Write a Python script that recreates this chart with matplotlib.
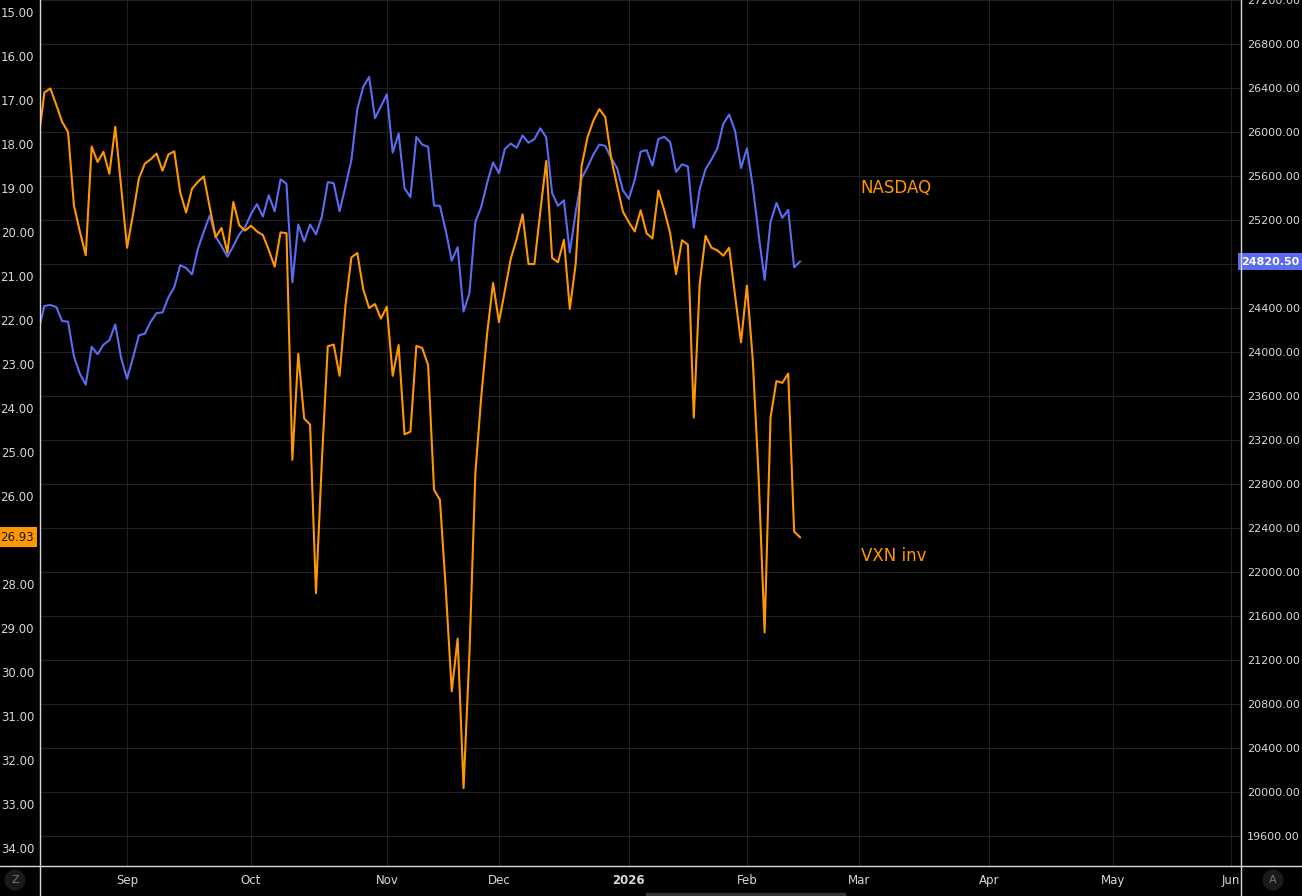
import numpy as np
import matplotlib; matplotlib.use("Agg")
import matplotlib.pyplot as plt
from matplotlib.lines import Line2D
from matplotlib.patches import Rectangle

# daily closes, Aug 11 2025 .. Feb 13 2026 (trading-day index)
vxn = [17.88, 16.82, 16.73, 17.10, 17.49, 17.72, 19.39, 19.98, 20.52, 18.05,
       18.40, 18.17, 18.67, 17.60, 18.97, 20.35, 19.59, 18.78, 18.44, 18.34,
       18.21, 18.60, 18.23, 18.16, 19.09, 19.55, 19.01, 18.85, 18.73, 19.43,
       20.11, 19.90, 20.46, 19.31, 19.84, 19.96, 19.85, 19.98, 20.06, 20.40,
       20.78, 20.00, 20.02, 25.17, 22.76, 24.23, 24.37, 28.20, 25.20, 22.59,
       22.55, 23.26, 21.66, 20.57, 20.47, 21.29, 21.72, 21.63, 21.96, 21.69,
       23.26, 22.56, 24.59, 24.53, 22.58, 22.63, 23.02, 25.85, 26.08, 28.13,
       30.43, 29.23, 32.63, 29.56, 25.47, 23.73, 22.29, 21.15, 22.04, 21.32,
       20.60, 20.15, 19.59, 20.72, 20.72, 19.53, 18.38, 20.58, 20.68, 20.17,
       21.74, 20.71, 18.49, 17.84, 17.46, 17.20, 17.38, 18.30, 18.94, 19.53,
       19.77, 19.98, 19.50, 20.02, 20.14, 19.05, 19.50, 20.02, 20.95, 20.18,
       20.28, 24.21, 21.17, 20.08, 20.35, 20.41, 20.53, 20.35, 21.44, 22.50,
       21.21, 22.91, 25.60, 29.09, 24.21, 23.38, 23.42, 23.21, 26.80, 26.93]
nasdaq = [24190, 24417, 24426, 24408, 24280, 24274, 23956, 23801, 23701, 24046,
          23978, 24065, 24105, 24249, 23941, 23755, 23947, 24149, 24165, 24274,
          24352, 24358, 24495, 24588, 24787, 24763, 24704, 24937, 25093, 25239,
          25049, 24962, 24865, 24962, 25068, 25133, 25255, 25343, 25230, 25424,
          25278, 25569, 25527, 24631, 25158, 25003, 25158, 25068, 25230, 25543,
          25534, 25278, 25505, 25746, 26206, 26410, 26500, 26125, 26232, 26342,
          25812, 25986, 25488, 25407, 25954, 25885, 25864, 25330, 25328, 25099,
          24829, 24952, 24366, 24535, 25181, 25320, 25537, 25722, 25624, 25845,
          25894, 25856, 25967, 25902, 25935, 26033, 25951, 25444, 25328, 25378,
          24903, 25271, 25578, 25681, 25795, 25885, 25873, 25763, 25673, 25468,
          25391, 25566, 25820, 25835, 25693, 25936, 25955, 25908, 25636, 25705,
          25686, 25130, 25478, 25662, 25750, 25851, 26073, 26158, 26009, 25671,
          25851, 25503, 25060, 24655, 25180, 25355, 25218, 25291, 24769, 24820.5]
month_labels = ["Sep", "Oct", "Nov", "Dec", "2026", "Feb", "Mar", "Apr", "May", "Jun"]
month_idx = [15, 36, 59, 78, 100, 120, 139, 161, 182, 202]
left_ticks = list(range(15, 35))
right_ticks = list(range(19600, 27201, 400))
vxn_last, nasdaq_last = vxn[-1], nasdaq[-1]

ORANGE = "#ff9800"; BLUE = "#5b6cf2"; TXT = "#d6d8de"; GRID = "#202020"; AX = "#d9d9d9"
W, H = 1302, 896
L, R, B = 40.3, 1241, 30

fig = plt.figure(figsize=(W/100, H/100), dpi=100, facecolor="black")
ax = fig.add_axes([L/W, B/H, (R-L)/W, (H-B)/H])
ax.set_facecolor("black")
axl = ax.twinx()
ax.yaxis.tick_right(); axl.yaxis.tick_left()

x = np.arange(len(vxn))
ax.plot(x, nasdaq, color=BLUE, lw=1.5, zorder=3)
axl.plot(x, vxn, color=ORANGE, lw=1.5, zorder=3)

ax.set_xlim(0.3, 203.7)
ax.set_ylim(19323, 27195.5)
axl.set_ylim(34.40, 14.72)

ax.set_xticks(month_idx); ax.set_xticklabels(month_labels)
for t in ax.get_xticklabels():
    if t.get_text() == "2026": t.set_fontweight("bold")
ax.set_yticks(right_ticks)
ax.set_yticklabels(["" if v == 24800 else f"{v:.2f}" for v in right_ticks])
axl.set_yticks(left_ticks)
axl.set_yticklabels(["" if v == 27 else f"{v:.2f}" for v in left_ticks])
ax.grid(True, color=GRID, lw=0.8)
ax.tick_params(axis="x", length=0, pad=6, colors=TXT, labelsize=8.5)
ax.tick_params(axis="y", length=0, pad=4.3, colors=TXT, labelsize=8)
axl.tick_params(axis="y", length=0, pad=4.5, colors=TXT, labelsize=8.5)
for a in (ax, axl):
    for s in a.spines.values(): s.set_visible(False)

# frame lines that run through the margins
fig.add_artist(Line2D([L/W, L/W], [0, 1], transform=fig.transFigure, color=AX, lw=1))
fig.add_artist(Line2D([R/W, R/W], [0, 1], transform=fig.transFigure, color=AX, lw=1))
fig.add_artist(Line2D([0, 1], [B/H, B/H], transform=fig.transFigure, color=AX, lw=1))
fig.add_artist(Rectangle((646/W, 0), 199/W, 3/H, transform=fig.transFigure, color="#333333"))

# last-value price tags
axl.text(-L/(R-L), vxn_last, "26.93", transform=axl.get_yaxis_transform(), ha="left", va="center",
         fontsize=8.5, color="#131722", clip_on=False, zorder=10,
         bbox=dict(boxstyle="square,pad=0.3", fc=ORANGE, ec="none"))
ax.text(1.0, nasdaq_last, "24820.50", transform=ax.get_yaxis_transform(), ha="left", va="center",
        fontsize=8, color="white", fontweight="bold", clip_on=False, zorder=10,
        bbox=dict(boxstyle="square,pad=0.3", fc=BLUE, ec="none"))

ax.text(139.3, 25490, "NASDAQ", color=ORANGE, fontsize=12, va="center", ha="left")
axl.text(139.3, 27.36, "VXN inv", color=ORANGE, fontsize=12, va="center", ha="left")

fig.text(15/W, 1 - 880/H, "Z", ha="center", va="center", color="#777777", fontsize=8,
         bbox=dict(boxstyle="circle,pad=0.5", fc="#1a1a1a", ec="none"))
fig.text(1273/W, 1 - 880/H, "A", ha="center", va="center", color="#777777", fontsize=8,
         bbox=dict(boxstyle="circle,pad=0.5", fc="#1a1a1a", ec="none"))

fig.savefig("out.png", dpi=100, facecolor="black")
print("saved")
